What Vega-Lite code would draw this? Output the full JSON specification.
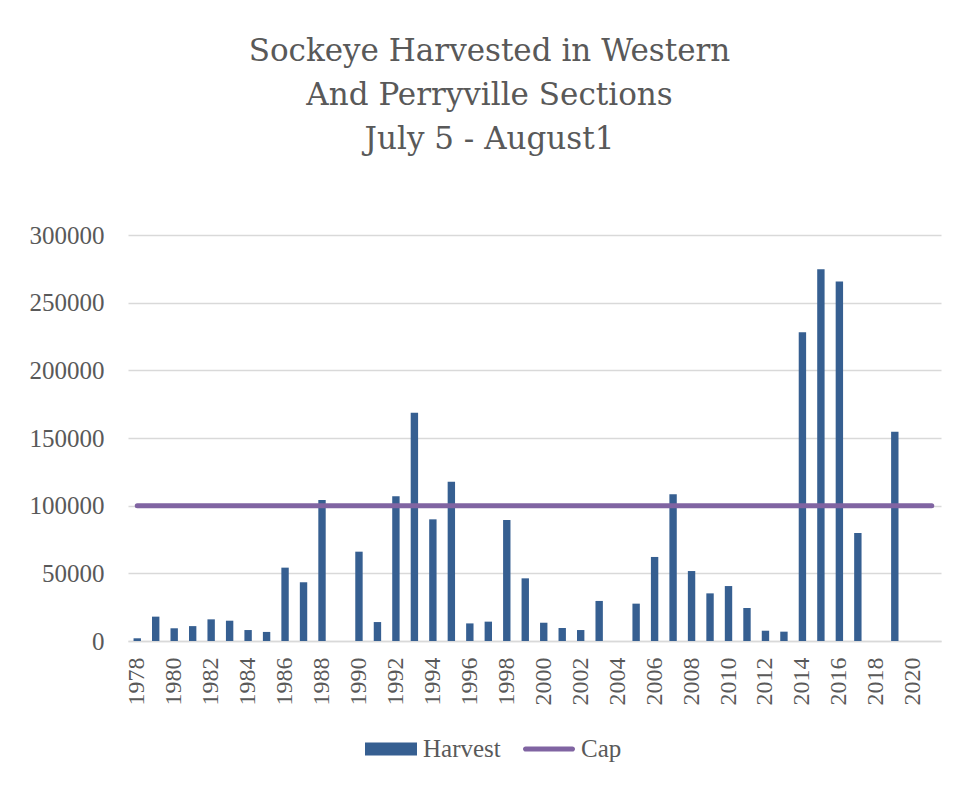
{
  "$schema": "https://vega.github.io/schema/vega-lite/v6.json",
  "autosize": {"type": "none"},
  "padding": {"left": 128, "top": 235, "right": 18, "bottom": 144},
  "width": 813,
  "height": 406,
  "background": "white",
  "config": {"view": {"stroke": null}},
  "title": {
    "text": ["Sockeye Harvested in Western", "And Perryville Sections", "July 5 - August1"],
    "font": "DejaVu Serif",
    "fontSize": 31,
    "fontWeight": "normal",
    "color": "#595959",
    "lineHeight": 44,
    "anchor": "middle",
    "frame": "group",
    "dx": -45,
    "offset": 67
  },
  "data": {
    "values": [
      {"year": 1978, "harvest": 2000, "cap": 100000},
      {"year": 1979, "harvest": 18000, "cap": 100000},
      {"year": 1980, "harvest": 9400, "cap": 100000},
      {"year": 1981, "harvest": 11000, "cap": 100000},
      {"year": 1982, "harvest": 16000, "cap": 100000},
      {"year": 1983, "harvest": 15000, "cap": 100000},
      {"year": 1984, "harvest": 8100, "cap": 100000},
      {"year": 1985, "harvest": 6700, "cap": 100000},
      {"year": 1986, "harvest": 54200, "cap": 100000},
      {"year": 1987, "harvest": 43400, "cap": 100000},
      {"year": 1988, "harvest": 104200, "cap": 100000},
      {"year": 1989, "harvest": null, "cap": 100000},
      {"year": 1990, "harvest": 66000, "cap": 100000},
      {"year": 1991, "harvest": 14000, "cap": 100000},
      {"year": 1992, "harvest": 106900, "cap": 100000},
      {"year": 1993, "harvest": 168700, "cap": 100000},
      {"year": 1994, "harvest": 89900, "cap": 100000},
      {"year": 1995, "harvest": 117700, "cap": 100000},
      {"year": 1996, "harvest": 13000, "cap": 100000},
      {"year": 1997, "harvest": 14300, "cap": 100000},
      {"year": 1998, "harvest": 89400, "cap": 100000},
      {"year": 1999, "harvest": 46300, "cap": 100000},
      {"year": 2000, "harvest": 13500, "cap": 100000},
      {"year": 2001, "harvest": 9600, "cap": 100000},
      {"year": 2002, "harvest": 8100, "cap": 100000},
      {"year": 2003, "harvest": 29600, "cap": 100000},
      {"year": 2004, "harvest": null, "cap": 100000},
      {"year": 2005, "harvest": 27600, "cap": 100000},
      {"year": 2006, "harvest": 62100, "cap": 100000},
      {"year": 2007, "harvest": 108400, "cap": 100000},
      {"year": 2008, "harvest": 51700, "cap": 100000},
      {"year": 2009, "harvest": 35200, "cap": 100000},
      {"year": 2010, "harvest": 40600, "cap": 100000},
      {"year": 2011, "harvest": 24400, "cap": 100000},
      {"year": 2012, "harvest": 7600, "cap": 100000},
      {"year": 2013, "harvest": 6900, "cap": 100000},
      {"year": 2014, "harvest": 228100, "cap": 100000},
      {"year": 2015, "harvest": 274700, "cap": 100000},
      {"year": 2016, "harvest": 265600, "cap": 100000},
      {"year": 2017, "harvest": 79800, "cap": 100000},
      {"year": 2018, "harvest": null, "cap": 100000},
      {"year": 2019, "harvest": 154700, "cap": 100000},
      {"year": 2020, "harvest": null, "cap": 100000},
      {"year": 2021, "harvest": null, "cap": 100000}
    ]
  },
  "encoding": {
    "x": {
      "field": "year",
      "type": "ordinal",
      "scale": {"paddingInner": 0.6, "paddingOuter": 0.3},
      "axis": {
        "title": null,
        "labelAngle": -90,
        "labelExpr": "datum.value % 2 == 0 ? datum.label : ''",
        "labelFont": "Liberation Serif",
        "labelFontSize": 24,
        "labelColor": "#595959",
        "labelPadding": 16,
        "ticks": false,
        "domainColor": "#d9d9d9",
        "domainWidth": 1.5,
        "grid": false
      }
    }
  },
  "layer": [
    {
      "mark": {"type": "bar", "color": "#365F91"},
      "encoding": {
        "y": {
          "field": "harvest",
          "type": "quantitative",
          "scale": {"domain": [0, 300000], "nice": false},
          "axis": {
            "title": null,
            "values": [0, 50000, 100000, 150000, 200000, 250000, 300000],
            "format": "d",
            "labelFont": "Liberation Serif",
            "labelFontSize": 25,
            "labelColor": "#595959",
            "labelPadding": 24,
            "ticks": false,
            "domain": false,
            "gridColor": "#d9d9d9",
            "gridWidth": 1.5
          }
        },
        "color": {
          "datum": "Harvest",
          "type": "nominal",
          "scale": {"domain": ["Harvest", "Cap"], "range": ["#365F91", "#8064A2"]},
          "legend": {
            "title": null,
            "orient": "none",
            "legendX": 237,
            "legendY": 488,
            "direction": "horizontal",
            "symbolSize": 2704,
            "labelFont": "Liberation Serif",
            "labelFontSize": 25,
            "labelColor": "#595959",
            "labelOffset": 6,
            "columnPadding": 22,
            "encode": {
              "symbols": {
                "update": {
                  "shape": {"signal": "datum.value === 'Harvest' ? 'M-1,-0.25H1V0.25H-1Z' : 'M-0.9,-0.1H0.9A0.1,0.1 0 0 1 0.9,0.1H-0.9A0.1,0.1 0 0 1 -0.9,-0.1Z'"},
                  "fill": {"signal": "scale('color', datum.value)"},
                  "stroke": {"value": "transparent"},
                  "strokeWidth": {"value": 0},
                  "opacity": {"value": 1}
                }
              }
            }
          }
        }
      }
    },
    {
      "mark": {"type": "line", "strokeWidth": 5, "strokeCap": "round"},
      "encoding": {
        "y": {"field": "cap", "type": "quantitative"},
        "color": {"datum": "Cap", "type": "nominal"}
      }
    }
  ]
}
